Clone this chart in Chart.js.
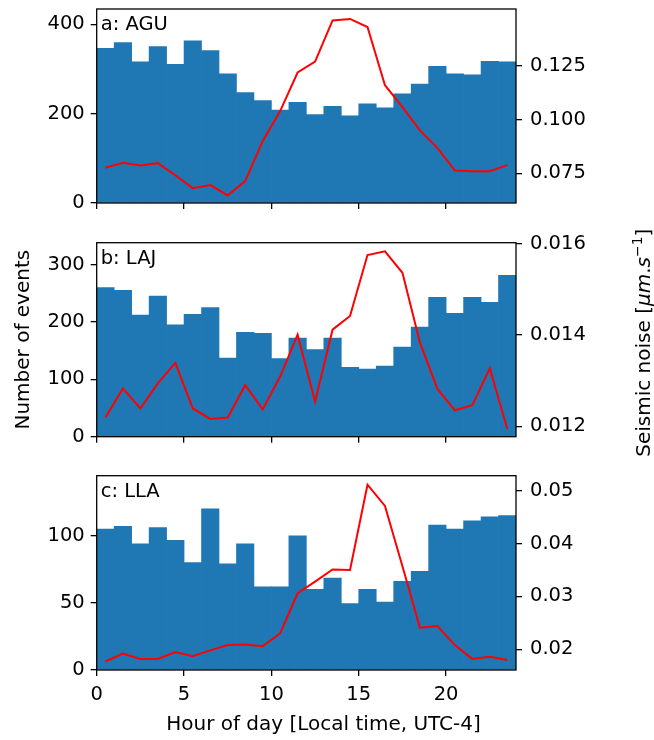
<!DOCTYPE html>
<html>
<head>
<meta charset="utf-8">
<script src="https://cdn.jsdelivr.net/npm/chart.js@4/dist/chart.umd.min.js"></script>
<style>
  body { margin: 0; background: #fff; }
  #fig { position: relative; width: 654px; height: 740px; }
  #fig canvas { position: absolute; left: 0; }
</style>
</head>
<body>
<div id="fig">
  <canvas id="panelA" width="654" height="222" style="top:0px"></canvas>
  <canvas id="panelB" width="654" height="260" style="top:214px"></canvas>
  <canvas id="panelC" width="654" height="278" style="top:462px"></canvas>
</div>
<script>
// hourly bins (local time, UTC-4)
const hours = [0, 1, 2, 3, 4, 5, 6, 7, 8, 9, 10, 11, 12, 13, 14, 15, 16, 17, 18, 19, 20, 21, 22, 23];
const hourTicks = [0, 5, 10, 15, 20];

// a: AGU
const aguCounts = [346, 359, 316, 350, 310, 363, 341, 289, 247, 229, 208, 225, 198, 216, 195, 222, 213, 244, 266, 306, 289, 287, 317, 316];
const aguNoise = [0.0776, 0.0799, 0.0786, 0.0797, 0.0741, 0.0681, 0.0695, 0.0647, 0.0714, 0.0899, 0.1039, 0.1218,
                  0.1269, 0.1460, 0.1467, 0.1429, 0.1159, 0.1057, 0.0949, 0.0868, 0.0763, 0.0760, 0.0760, 0.0788];
const aguCountTicks = [0, 200, 400];
const aguNoiseTicks = [0.075, 0.100, 0.125];

// b: LAJ
const lajCounts = [260, 255, 212, 245, 195, 213, 225, 137, 182, 180, 136, 172, 152, 172, 121, 118, 123, 156, 191, 243, 215, 243, 234, 281];
const lajNoise = [0.01219, 0.01283, 0.01239, 0.01294, 0.01339, 0.01239, 0.01216, 0.01219, 0.01290, 0.01237, 0.01309, 0.01401,
                  0.01254, 0.01412, 0.01442, 0.01576, 0.01584, 0.01537, 0.01384, 0.01282, 0.01235, 0.01246, 0.01327, 0.01194];
const lajCountTicks = [0, 100, 200, 300];
const lajNoiseTicks = [0.012, 0.014, 0.016];

// c: LLA
const llaCounts = [105, 107, 94, 106, 96.5, 80, 120, 79, 94, 62, 62, 100, 60, 68.5, 49.5, 60, 50.5, 66, 73.5, 108, 105, 111, 114, 115];
const llaNoise = [0.0177, 0.0192, 0.0182, 0.0182, 0.0195, 0.0187, 0.0198, 0.0208, 0.0209, 0.0206, 0.0230, 0.0306,
                  0.0328, 0.0351, 0.0350, 0.0511, 0.0471, 0.0357, 0.0241, 0.0244, 0.0208, 0.0182, 0.0186, 0.0180];
const llaCountTicks = [0, 50, 100];
const llaNoiseTicks = [0.02, 0.03, 0.04, 0.05];

const FONT = '"DejaVu Sans", sans-serif';
const FS = 19.5;   // tick labels, panel letters
const TS = 20;     // axis titles
Chart.defaults.font.family = FONT;
Chart.defaults.font.size = FS;
Chart.defaults.color = '#000';

const setTicks = vals => axis => { axis.ticks = vals.map(v => ({ value: v })); };
const noPad = axis => { axis.paddingTop = 0; axis.paddingBottom = 0; axis.paddingLeft = 0; axis.paddingRight = 0; };

// frame, panel letter and the figure-level axis titles
const decor = {
  id: 'decor',
  afterDatasetsDraw(chart, args, opts) {
    const { ctx, chartArea: a } = chart;
    ctx.save();
    ctx.strokeStyle = '#000';
    ctx.lineWidth = 1.3;
    ctx.strokeRect(a.left, a.top, a.right - a.left, a.bottom - a.top);
    ctx.fillStyle = '#000';
    ctx.font = `${FS}px ${FONT}`;
    ctx.textBaseline = 'alphabetic';
    ctx.textAlign = 'left';
    ctx.fillText(opts.label, a.left + 4, a.top + 21);
    const midY = (a.top + a.bottom) / 2;

    if (opts.sideTitles) {
      ctx.save();
      ctx.font = `${TS}px ${FONT}`;
      ctx.translate(29, midY);
      ctx.rotate(-Math.PI / 2);
      ctx.textAlign = 'center';
      ctx.fillText('Number of events', 0, 0);
      ctx.restore();

      // Seismic noise [μm.s^-1] with math-style pieces
      const parts = [
        { t: 'Seismic noise [', f: `${TS}px ${FONT}`, dy: 0 },
        { t: 'μm', f: `italic ${TS}px ${FONT}`, dy: 0 },
        { t: '.', f: `${TS}px ${FONT}`, dy: 0 },
        { t: 's', f: `italic ${TS}px ${FONT}`, dy: 0 },
        { t: '−1', f: `${TS * 0.7}px ${FONT}`, dy: -8 },
        { t: ']', f: `${TS}px ${FONT}`, dy: 0 }
      ];
      let total = 0;
      parts.forEach(p => { ctx.font = p.f; p.w = ctx.measureText(p.t).width; total += p.w; });
      ctx.save();
      ctx.translate(650, midY + 3);
      ctx.rotate(-Math.PI / 2);
      ctx.textAlign = 'left';
      let x = -total / 2;
      parts.forEach(p => { ctx.font = p.f; ctx.fillText(p.t, x, p.dy); x += p.w; });
      ctx.restore();
    }

    if (opts.bottomTitle) {
      ctx.font = `${TS}px ${FONT}`;
      ctx.textAlign = 'center';
      ctx.fillText('Hour of day [Local time, UTC-4]', 323.5, a.bottom + 59.5);
    }
    ctx.restore();
  }
};

function makePanel(id, cfg) {
  const tickGrid = { drawOnChartArea: false, drawTicks: true, tickLength: 6, color: '#000', lineWidth: 1.3, offset: false };
  return new Chart(document.getElementById(id), {
    type: 'bar',
    data: {
      datasets: [
        {
          type: 'line',
          data: hours.map((h, i) => ({ x: h + 0.5, y: cfg.noise[i] })),
          yAxisID: 'y2',
          borderColor: '#ff0000',
          borderWidth: 2,
          pointRadius: 0,
          tension: 0,
          order: 1
        },
        {
          data: hours.map((h, i) => ({ x: h + 0.5, y: cfg.counts[i] })),
          yAxisID: 'y',
          backgroundColor: '#1f77b4',
          borderWidth: 0,
          barPercentage: 1,
          categoryPercentage: 1,
          order: 2
        }
      ]
    },
    options: {
      responsive: false,
      animation: false,
      devicePixelRatio: 1,
      layout: { padding: { top: cfg.top, bottom: 0, left: 0, right: 0 } },
      plugins: {
        legend: { display: false },
        tooltip: { enabled: false },
        decor: { label: cfg.label, sideTitles: !!cfg.sideTitles, bottomTitle: !!cfg.bottomTitle }
      },
      scales: {
        x: {
          type: 'linear',
          min: 0,
          max: 24,
          offset: false,
          border: { display: false },
          grid: tickGrid,
          afterBuildTicks: setTicks(hourTicks),
          afterFit: axis => { noPad(axis); axis.height = cfg.xHeight; },
          ticks: { display: !!cfg.bottomTitle, padding: 7, maxRotation: 0, callback: v => String(v) }
        },
        y: {
          position: 'left',
          min: 0,
          max: cfg.countMax,
          border: { display: false },
          grid: tickGrid,
          afterBuildTicks: setTicks(cfg.countTicks),
          afterFit: axis => { noPad(axis); axis.width = 96.7; },
          ticks: { padding: 6, callback: v => String(v) }
        },
        y2: {
          position: 'right',
          min: cfg.noiseMin,
          max: cfg.noiseMax,
          border: { display: false },
          grid: tickGrid,
          afterBuildTicks: setTicks(cfg.noiseTicks),
          afterFit: axis => { noPad(axis); axis.width = 138; },
          ticks: { padding: 8, callback: v => v.toFixed(cfg.decimals) }
        }
      }
    },
    plugins: [decor]
  });
}

makePanel('panelA', {
  label: 'a: AGU', counts: aguCounts, noise: aguNoise,
  countMax: 434, countTicks: aguCountTicks,
  noiseMin: 0.0612, noiseMax: 0.1513, noiseTicks: aguNoiseTicks, decimals: 3,
  top: 9, xHeight: 19
});
makePanel('panelB', {
  label: 'b: LAJ', counts: lajCounts, noise: lajNoise,
  countMax: 338, countTicks: lajCountTicks,
  noiseMin: 0.01177, noiseMax: 0.01603, noiseTicks: lajNoiseTicks, decimals: 3,
  top: 28.7, xHeight: 37.3, sideTitles: true
});
makePanel('panelC', {
  label: 'c: LLA', counts: llaCounts, noise: llaNoise,
  countMax: 144.7, countTicks: llaCountTicks,
  noiseMin: 0.0161, noiseMax: 0.0528, noiseTicks: llaNoiseTicks, decimals: 2,
  top: 13.7, xHeight: 70, bottomTitle: true
});
</script>
</body>
</html>
